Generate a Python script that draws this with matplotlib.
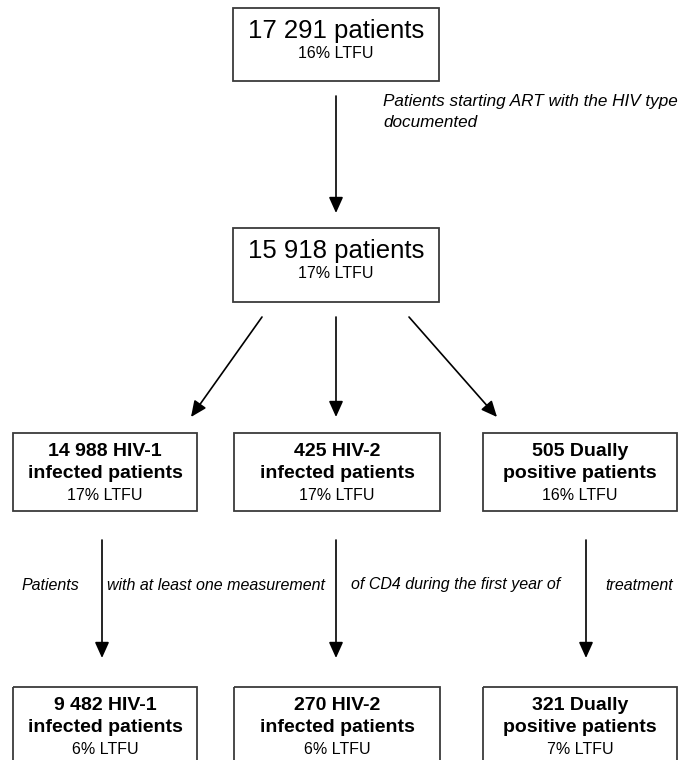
import matplotlib
matplotlib.use('Agg')
import matplotlib.pyplot as plt
from matplotlib.patches import Rectangle, FancyArrowPatch

plt.rcParams['font.family'] = ['Liberation Sans', 'DejaVu Sans']

# flowchart content
top_counts = ['17 291 patients', '15 918 patients']
top_ltfu = ['16% LTFU', '17% LTFU']

mid_titles = ['14 988 HIV-1', '425 HIV-2', '505 Dually']
mid_sub = ['infected patients', 'infected patients', 'positive patients']
mid_ltfu = ['17% LTFU', '17% LTFU', '16% LTFU']

bot_titles = ['9 482 HIV-1', '270 HIV-2', '321 Dually']
bot_sub = ['infected patients', 'infected patients', 'positive patients']
bot_ltfu = ['6% LTFU', '6% LTFU', '7% LTFU']

step1_label = 'Patients starting ART with the HIV type\ndocumented'
step3_labels = ['Patients', 'with at least one measurement',
                'of CD4 during the first year of', 'treatment']

W, H = 678, 760
fig = plt.figure(figsize=(W / 100, H / 100), dpi=100)
ax = fig.add_axes([0, 0, 1, 1])
ax.set_xlim(0, W)
ax.set_ylim(H, 0)
ax.axis('off')

edge = '#3a3a3a'


def box(x0, x1, y0, y1):
    ax.add_patch(Rectangle((x0, y0), x1 - x0, y1 - y0, fill=False,
                           edgecolor=edge, linewidth=1.3))


def arrow(x0, y0, x1, y1):
    a = FancyArrowPatch((x0, y0), (x1, y1), arrowstyle='-|>,head_length=0.8,head_width=0.36',
                        mutation_scale=12, color='black', linewidth=1.2,
                        shrinkA=0, shrinkB=0)
    ax.add_patch(a)


# top two boxes
top_y = [(8, 81), (228, 302)]
for (y0, y1), cnt, lt in zip(top_y, top_counts, top_ltfu):
    box(233, 439, y0, y1)
    ax.text(336, y0 + 23, cnt, fontsize=18.5, ha='center', va='center')
    ax.text(336, y0 + 45, lt, fontsize=11.5, ha='center', va='center')

arrow(336, 96, 336, 213)
ax.text(383, 112, step1_label, fontsize=12.3, style='italic', ha='left', va='center',
        linespacing=1.5)

# second level boxes
col_x = [(13, 197), (234, 440), (483, 677)]
for (x0, x1), t, s, lt in zip(col_x, mid_titles, mid_sub, mid_ltfu):
    cx = (x0 + x1) / 2
    box(x0, x1, 433, 511)
    ax.text(cx, 451, t, fontsize=14, fontweight='bold', ha='center', va='center')
    ax.text(cx, 473, s, fontsize=14, fontweight='bold', ha='center', va='center')
    ax.text(cx, 495, lt, fontsize=11.5, ha='center', va='center')

arrow(262, 317, 191, 417)
arrow(336, 317, 336, 417)
arrow(409, 317, 497, 417)

# CD4 arrows and label pieces
for x in [102, 336, 586]:
    arrow(x, 540, x, 658)
label_x = [21, 107, 351, 605]
for x, lab in zip(label_x, step3_labels):
    ax.text(x, 585, lab, fontsize=11.5, style='italic', ha='left', va='center')

# bottom boxes
for (x0, x1), t, s, lt in zip(col_x, bot_titles, bot_sub, bot_ltfu):
    cx = (x0 + x1) / 2
    box(x0, x1, 687, 770)
    ax.text(cx, 706, t, fontsize=14, fontweight='bold', ha='center', va='center')
    ax.text(cx, 728, s, fontsize=14, fontweight='bold', ha='center', va='center')
    ax.text(cx, 749, lt, fontsize=11.5, ha='center', va='center')

fig.savefig('out.png', dpi=100)
